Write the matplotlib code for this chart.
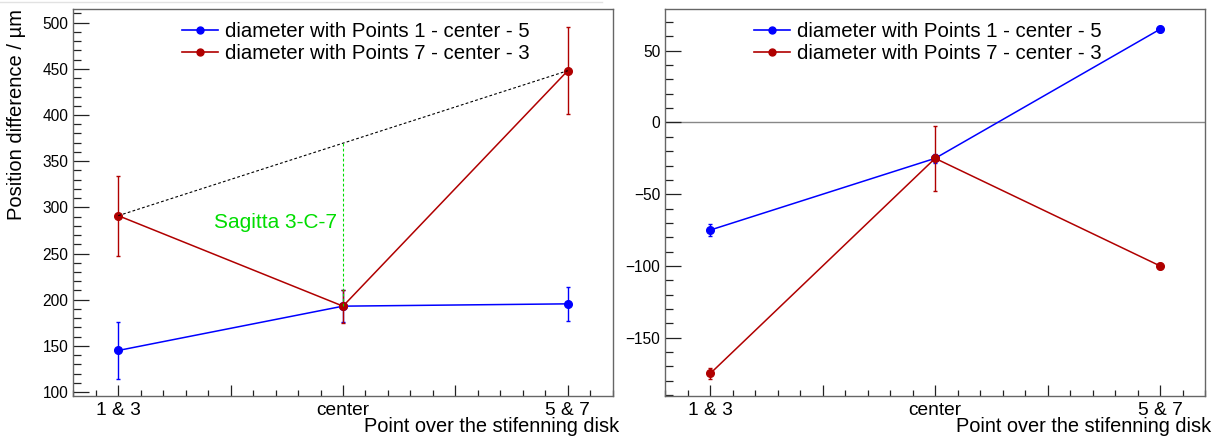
import numpy as np
import matplotlib
matplotlib.use("Agg")
import matplotlib.pyplot as plt
from matplotlib.lines import Line2D
from matplotlib.ticker import MultipleLocator, FixedLocator

plt.rcParams["font.family"] = ["Liberation Sans", "DejaVu Sans"]

# ---- data -------------------------------------------------------------------
positions = ["1 & 3", "center", "5 & 7"]
series_labels = ["diameter with Points 1 - center - 5",
                 "diameter with Points 7 - center - 3"]

# left pad: position difference (um)
blue_left = [145, 193, 195.5]
blue_left_err = [31, 17, 18.5]
red_left = [291, 193, 448]
red_left_err = [43.5, 18, 47]

# right pad
blue_right = [-75, -25, 65]
blue_right_err = [4, 3, 2]
red_right = [-175, -25, -100]
red_right_err = [4, 22.5, 2]

BLUE, RED, GREEN = "#0000ff", "#b00000", "#00dd00"
FRAME = "#666666"

fig = plt.figure(figsize=(12.22, 4.38), dpi=100)
W, H = 1222, 438


def px_axes(x0, x1, y0, y1):
    return fig.add_axes([x0 / W, 1 - y1 / H, (x1 - x0) / W, (y1 - y0) / H])


def style(ax, ylim, ymajor, ymin):
    x = np.arange(len(positions))
    ax.set_xlim(-0.2, 2.2)
    ax.set_ylim(*ylim)
    ax.xaxis.set_major_locator(FixedLocator([0, 0.5, 1, 1.5, 2]))
    ax.set_xticklabels([positions[0], "", positions[1], "", positions[2]])
    ax.xaxis.set_minor_locator(MultipleLocator(0.1))
    ax.yaxis.set_major_locator(MultipleLocator(ymajor))
    ax.yaxis.set_minor_locator(MultipleLocator(ymin))
    ax.tick_params(axis="x", which="major", direction="in", length=8, width=0.9,
                   labelsize=13.8, pad=4, color="#222")
    ax.tick_params(axis="x", which="minor", direction="in", length=4, width=0.9, color="#222")
    ax.tick_params(axis="y", which="major", direction="in", length=11.5, width=0.9,
                   labelsize=11.2, pad=3.5, color="#222")
    ax.tick_params(axis="y", which="minor", direction="in", length=5.7, width=0.9, color="#222")
    for s in ax.spines.values():
        s.set_color(FRAME)
        s.set_linewidth(1.0)
    return x


def draw_series(ax, x, vals, errs, color):
    ax.errorbar(x, vals, yerr=errs, color=color, lw=1.1, marker="o", ms=5.5,
                elinewidth=1.0, capsize=1.6, capthick=1.0, zorder=3)


def legend(ax, xa):
    handles = [Line2D([], [], color=BLUE, marker="o", ms=5, lw=1.2),
               Line2D([], [], color=RED, marker="o", ms=5, lw=1.2)]
    ax.legend(handles, series_labels, loc="upper left", bbox_to_anchor=(xa, 0.968),
              frameon=False, fontsize=14.7, handlelength=1.76, handletextpad=0.34,
              labelspacing=0.18, borderpad=0, borderaxespad=0)


# ---- left pad ---------------------------------------------------------------
axL = px_axes(73.3, 612.7, 9.3, 396)
x = style(axL, (95.7, 514.5), 50, 10)
draw_series(axL, x, blue_left, blue_left_err, BLUE)
draw_series(axL, x, red_left, red_left_err, RED)
chord_mid = (red_left[0] + red_left[2]) / 2
axL.plot([x[0], x[2]], [red_left[0], red_left[2]], color="black", lw=0.8,
         ls=(0, (2.5, 2)), zorder=4)
axL.plot([x[1], x[1]], [red_left[1], chord_mid], color=GREEN, lw=0.8,
         ls=(0, (2.5, 2)), zorder=4)
axL.text(0.975, 284, "Sagitta 3-C-7", color=GREEN, fontsize=15, ha="right", va="center")
legend(axL, 0.2015)
fig.text(17 / W, 1 - 9.3 / H, "Position difference / µm", rotation=90, ha="center",
         va="top", fontsize=14.5)
fig.text(619 / W, 1 - 432 / H, "Point over the stifenning disk", ha="right",
         va="baseline", fontsize=14.4)

# ---- right pad --------------------------------------------------------------
axR = px_axes(665.3, 1205, 9.3, 396)
x = style(axR, (-190.7, 78.9), 50, 10)
axR.axhline(0, color="#888888", lw=1.0, zorder=1)
draw_series(axR, x, blue_right, blue_right_err, BLUE)
draw_series(axR, x, red_right, red_right_err, RED)
legend(axR, 0.165)
fig.text(1211 / W, 1 - 432 / H, "Point over the stifenning disk", ha="right",
         va="baseline", fontsize=14.4)

# faint border line at the top of the left pad
fig.add_artist(Line2D([0, 602 / W], [1 - 1.5 / H, 1 - 1.5 / H], color="#e2e2e2", lw=1))

fig.savefig("out.png", dpi=100)
